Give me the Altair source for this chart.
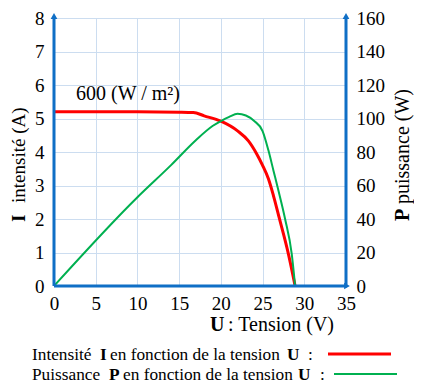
import altair as alt
import pandas as pd

# ---- data ----
U_I = [0, 5, 10, 15, 16.7, 18, 20, 22, 23.3, 24.3, 25.0, 25.7, 26.3, 27.0, 28.1, 28.9]
I_vals = [5.2, 5.2, 5.2, 5.19, 5.18, 5.08, 4.92, 4.63, 4.33, 3.94, 3.6, 3.2, 2.7, 2.03, 0.95, 0]

U_P = [0, 10, 14, 17, 19, 20, 21, 22, 23, 24, 25, 25.7, 26.3, 26.9, 27.7, 28.5, 28.9]
P_vals = [0, 53, 72, 87, 95.5, 98.5, 101, 102.8, 101.8, 98.5, 92.5, 81, 69, 57, 40, 19, 0]

x_ticks = [0, 5, 10, 15, 20, 25, 30, 35]
i_ticks = [0, 1, 2, 3, 4, 5, 6, 7, 8]
p_ticks = [0, 20, 40, 60, 80, 100, 120, 140, 160]

FONT = "Liberation Serif"
BLUE = "#0F6FC6"
GRID = "#CCDDF0"
RED = "#FF0000"
GREEN = "#00B050"

W, H = 292, 268

df_i = pd.DataFrame({"U": U_I, "I": I_vals})
df_p = pd.DataFrame({"U": U_P, "P": P_vals})
one = pd.DataFrame({"a": [0]})


def x_enc():
    return alt.X(
        "U:Q",
        scale=alt.Scale(domain=[0, 35], nice=False),
        axis=alt.Axis(values=x_ticks, title=None, grid=True, gridColor=GRID, gridWidth=1,
                      domain=False, ticks=False, labelFont=FONT, labelFontSize=19,
                      labelColor="black", labelPadding=8, labelFlush=False, labelOverlap=False),
    )


red = alt.Chart(df_i).mark_line(color=RED, strokeWidth=3, interpolate="monotone").encode(
    x=x_enc(),
    y=alt.Y("I:Q", scale=alt.Scale(domain=[0, 8], nice=False),
            axis=alt.Axis(orient="left", values=i_ticks, title=None, grid=True, gridColor=GRID,
                          gridWidth=1, domain=False, ticks=False, labelFont=FONT, labelFontSize=19,
                          labelColor="black", labelPadding=10, labelOverlap=False, labelFlush=False)),
)

green = alt.Chart(df_p).mark_line(color=GREEN, strokeWidth=2, interpolate="monotone").encode(
    x=x_enc(),
    y=alt.Y("P:Q", scale=alt.Scale(domain=[0, 160], nice=False),
            axis=alt.Axis(orient="right", values=p_ticks, title=None, grid=False, domain=False,
                          ticks=False, labelFont=FONT, labelFontSize=19, labelColor="black",
                          labelPadding=10, labelOverlap=False, labelFlush=False)),
)


def rule(x, x2, y, y2, color, width):
    return alt.Chart(one).mark_rule(color=color, strokeWidth=width).encode(
        x=alt.value(x), x2=alt.value(x2), y=alt.value(y), y2=alt.value(y2))


def tri(shape, x, y):
    return alt.Chart(one).mark_point(shape=shape, filled=True, color=BLUE, size=45, opacity=1).encode(
        x=alt.value(x), y=alt.value(y))


def txt(s, x, y, size, bold=False, angle=0):
    return alt.Chart(one).mark_text(
        text=s, font=FONT, fontSize=size, fontWeight="bold" if bold else "normal",
        align="left", baseline="alphabetic", angle=angle, color="black",
    ).encode(x=alt.value(x), y=alt.value(y))


decor = [
    # axes lines
    rule(0, 0, 0, H, BLUE, 3),
    rule(W, W, 0, H, BLUE, 3),
    rule(0, W + 1, H, H, BLUE, 3),
    tri("triangle-up", 0, -2),
    tri("triangle-up", W, -2),
    tri("triangle-right", W + 1, H),
    # annotation
    txt("600 (W / m²)", 22, 82, 20),
    # axis titles
    txt("I", -29, 204, 19, bold=True, angle=270),
    txt("intensité (A)", -29, 185, 19, angle=270),
    txt("P", 355, 203, 20, bold=True, angle=270),
    txt("puissance  (W)", 355, 186, 20, angle=270),
    txt("U", 156, 313, 20, bold=True),
    txt(": Tension (V)", 174, 313, 20),
    # legend
    txt("Intensité", -22, 342, 17.3),
    txt("I", 46, 342, 17.3, bold=True),
    txt("en fonction de la tension", 56, 342, 17.3),
    txt("U", 233, 342, 17.3, bold=True),
    txt(":", 254, 342, 17.3),
    rule(274, 337, 336, 336, RED, 3),
    txt("Puissance", -22, 362, 17.3),
    txt("P", 55, 362, 17.3, bold=True),
    txt("en fonction de la tension", 69, 362, 17.3),
    txt("U", 244, 362, 17.3, bold=True),
    txt(":", 266, 362, 17.3),
    rule(280, 343, 356, 356, GREEN, 2),
]

chart = alt.layer(red, green, *decor).resolve_scale(y="independent").properties(
    width=W, height=H,
    autosize=alt.AutoSizeParams(type="none"),
    padding={"left": 46, "top": 10, "right": 68, "bottom": 102},
).configure_view(stroke=None).configure(background="white")

chart.save("out.html", embed_options={"renderer": "svg", "actions": False})
